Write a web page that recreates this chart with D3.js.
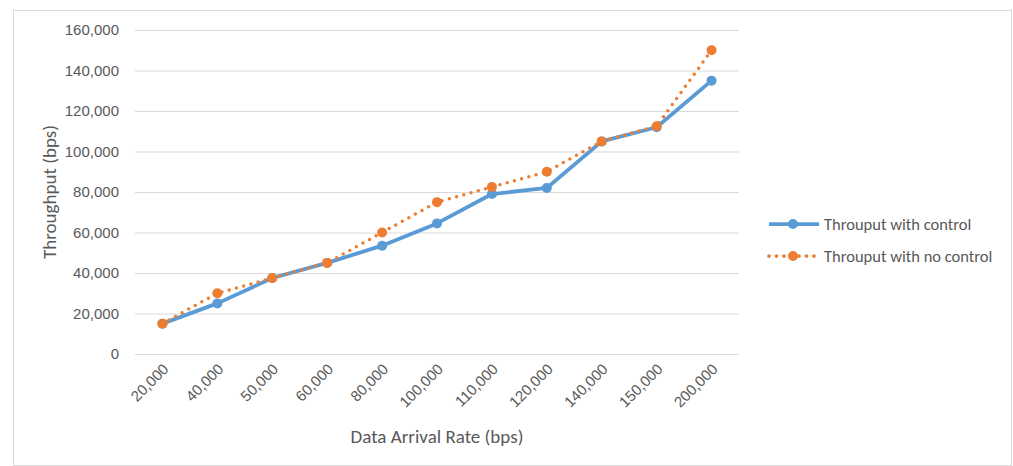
<!DOCTYPE html>
<html><head><meta charset="utf-8">
<script src="https://cdn.jsdelivr.net/npm/d3@7"></script>
<style>body{margin:0;background:#fff;} svg{display:block;font-family:Calibri,Carlito,"Open Sans","Liberation Sans",sans-serif;}</style>
</head><body>
<svg id="c" width="1013" height="466"></svg>
<script>
const categories = ["20,000","40,000","50,000","60,000","80,000","100,000","110,000","120,000","140,000","150,000","200,000"];
const withControl = [15000,25000,37500,45000,53500,64500,79000,82000,105000,112000,135000];
const noControl = [15000,30000,37500,45000,60000,75000,82500,90000,105000,112500,150000];
const yTicks = [0,20000,40000,60000,80000,100000,120000,140000,160000];
const seriesNames = ["Throuput with control","Throuput with no control"];
const colors = ["#5b9bd5","#ed7d31"];

(function(){
const svg = d3.select("#c");
svg.append("rect").attr("x",13.5).attr("y",10.5).attr("width",998).attr("height",455)
  .attr("fill","#fff").attr("stroke","#d9d9d9");

const pL=135, pR=739, pT=30, pB=354;
const x = d3.scaleBand().domain(categories).range([pL,pR]);
const y = d3.scaleLinear().domain([0,160000]).range([pB,pT]);
const fmt = d3.format(",");

svg.append("g").selectAll("line").data(yTicks).join("line")
  .attr("x1",pL).attr("x2",pR)
  .attr("y1",d=>y(d)+0.5).attr("y2",d=>y(d)+0.5)
  .attr("stroke","#d9d9d9").attr("stroke-width",1);

const ya = svg.append("g").attr("transform",`translate(${pL},0)`)
  .call(d3.axisLeft(y).tickValues(yTicks).tickFormat(d=>d===0?"0":fmt(d)).tickSize(0).tickPadding(16));
ya.select(".domain").remove();
ya.selectAll("text").attr("fill","#595959").style("font-size","15px");

const xa = svg.append("g").attr("transform",`translate(0,${pB})`)
  .call(d3.axisBottom(x).tickSize(0).tickPadding(0));
xa.select(".domain").remove();
xa.selectAll("text").attr("fill","#595959").style("font-size","15px")
  .attr("text-anchor","end").attr("dy",0).attr("y",0)
  .attr("transform","translate(7,16) rotate(-45)");

svg.append("text").attr("x",437).attr("y",443).attr("text-anchor","middle")
  .attr("fill","#595959").style("font-size","19px").text("Data Arrival Rate (bps)");
svg.append("text").attr("transform","translate(56,192) rotate(-90)").attr("text-anchor","middle")
  .attr("fill","#595959").style("font-size","19px").text("Throughput (bps)");

const cx = d => x(d)+x.bandwidth()/2;
const line = d3.line().x(d=>cx(d[0])).y(d=>y(d[1]));

const s1 = categories.map((c,i)=>[c,withControl[i]]);
const s2 = categories.map((c,i)=>[c,noControl[i]]);

svg.append("path").datum(s1).attr("d",line).attr("fill","none")
  .attr("stroke",colors[0]).attr("stroke-width",3.75).attr("stroke-linejoin","round");
svg.append("g").selectAll("circle").data(s1).join("circle")
  .attr("cx",d=>cx(d[0])).attr("cy",d=>y(d[1])).attr("r",5).attr("fill",colors[0]);

svg.append("path").datum(s2).attr("d",line).attr("fill","none")
  .attr("stroke",colors[1]).attr("stroke-width",3.5).attr("stroke-linecap","round")
  .attr("stroke-dasharray","0,7.5");
svg.append("g").selectAll("circle").data(s2).join("circle")
  .attr("cx",d=>cx(d[0])).attr("cy",d=>y(d[1])).attr("r",5).attr("fill",colors[1]);

const lg = svg.append("g");
[0,1].forEach(i=>{
  const yy = 224 + i*32;
  lg.append("line").attr("x1",769).attr("x2",819).attr("y1",yy).attr("y2",yy)
    .attr("stroke",colors[i]).attr("stroke-width",3.75)
    .attr("stroke-linecap",i? "round":"butt").attr("stroke-dasharray",i?"0,7.5":null);
  lg.append("circle").attr("cx",793).attr("cy",yy).attr("r",5).attr("fill",colors[i]);
  lg.append("text").attr("x",824).attr("y",yy).attr("dy","0.35em")
    .attr("fill","#595959").style("font-size","16.5px").text(seriesNames[i]);
});
})();
</script>
</body></html>
